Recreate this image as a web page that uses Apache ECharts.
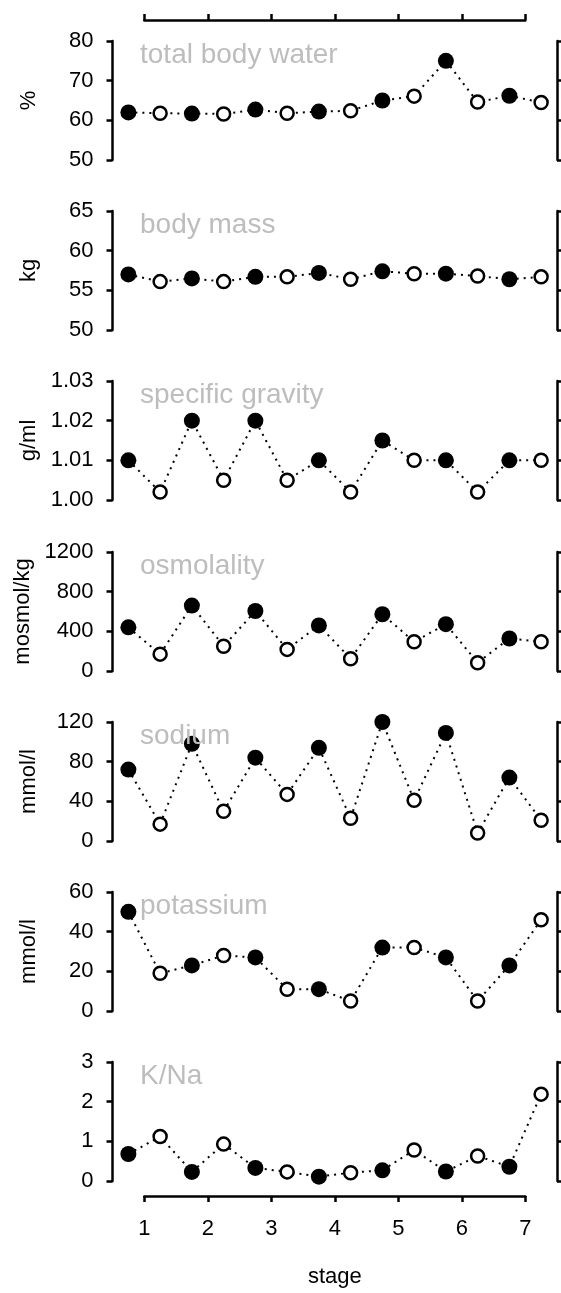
<!DOCTYPE html>
<html lang="en">
<head>
  <meta charset="UTF-8">
  <title>stage panels</title>
  <style>
    *{
      margin: 0;
      padding: 0;
    }
    body{
      background: #ffffff;
    }
    #main{
      width: 561px;
      height: 1293px;
    }
  </style>
</head>
<body>
  <div id="main"></div>
  <script src="https://cdn.jsdelivr.net/npm/echarts@6/dist/echarts.min.js"></script>
  <script type="text/javascript">
  // stages on the x axis
  var stages = [1, 2, 3, 4, 5, 6, 7]

  // panel titles and units
  var titles = ['total body water', 'body mass', 'specific gravity', 'osmolality', 'sodium', 'potassium', 'K/Na']
  var units = ['%', 'kg', 'g/ml', 'mosmol/kg', 'mmol/l', 'mmol/l', '']

  // filled dots (left of each stage) and open dots (right of each stage)
  var tbwFilled = [62.0, 61.7, 62.7, 62.2, 65.0, 75.0, 66.2]
  var tbwOpen = [61.8, 61.6, 61.8, 62.4, 66.1, 64.6, 64.5]
  var massFilled = [57.0, 56.5, 56.7, 57.2, 57.4, 57.1, 56.4]
  var massOpen = [56.1, 56.1, 56.7, 56.4, 57.1, 56.8, 56.7]
  var sgFilled = [1.010, 1.020, 1.020, 1.010, 1.015, 1.010, 1.010]
  var sgOpen = [1.002, 1.005, 1.005, 1.002, 1.010, 1.002, 1.010]
  var osmFilled = [440, 660, 605, 460, 572, 472, 328]
  var osmOpen = [170, 250, 218, 124, 295, 84, 295]
  var naFilled = [72, 98, 84, 94, 120, 109, 64]
  var naOpen = [17, 30, 47, 23, 41, 8, 21]
  var kFilled = [50, 23, 27, 11, 32, 27, 23]
  var kOpen = [19, 28, 11, 5, 32, 5, 46]
  var ratioFilled = [0.68, 0.23, 0.33, 0.11, 0.27, 0.24, 0.36]
  var ratioOpen = [1.12, 0.93, 0.23, 0.21, 0.78, 0.63, 2.19]

  // y axis ticks per panel
  var yMin = [50, 50, 1.00, 0, 0, 0, 0]
  var yMax = [80, 65, 1.03, 1200, 120, 60, 3]
  var yStep = [10, 5, 0.01, 400, 40, 20, 1]
  var yDigits = [0, 0, 2, 0, 0, 0, 0]

  var filled = [tbwFilled, massFilled, sgFilled, osmFilled, naFilled, kFilled, ratioFilled]
  var open = [tbwOpen, massOpen, sgOpen, osmOpen, naOpen, kOpen, ratioOpen]

  var font = '"Liberation Sans", Arial, sans-serif'
  var tops = [41, 211, 381, 552, 722, 892, 1062]
  var panelH = 119

  var grid = []
  var xAxis = []
  var yAxis = []
  var series = []
  var title = []

  tops.forEach(function (top, i) {
    grid.push({left: 112.5, width: 444.5, top: top, height: panelH})
    xAxis.push({type: 'value', gridIndex: i, min: 0.5, max: 7.5, show: false})
    var axisLine = {show: true, lineStyle: {color: '#000', width: 2.5}}
    yAxis.push({
      type: 'value', gridIndex: i, position: 'left',
      min: yMin[i], max: yMax[i], interval: yStep[i],
      name: units[i], nameLocation: 'middle', nameGap: 73, nameRotate: 90,
      nameTextStyle: {fontSize: 22, color: '#000', fontFamily: font},
      axisLine: axisLine,
      axisTick: {show: true, length: 6, lineStyle: {color: '#000', width: 2.5}},
      axisLabel: {
        fontSize: 22, color: '#000', fontFamily: font, margin: 19,
        formatter: function (v) { return v.toFixed(yDigits[i]) }
      },
      splitLine: {show: false}
    })
    // cut-off axis of the neighbouring column
    yAxis.push({
      type: 'value', gridIndex: i, position: 'right',
      min: yMin[i], max: yMax[i], interval: yStep[i],
      axisLine: axisLine,
      axisTick: {show: true, length: 6, lineStyle: {color: '#000', width: 2.5}},
      axisLabel: {show: false},
      splitLine: {show: false}
    })

    var line = []
    stages.forEach(function (s, j) {
      line.push([s - 0.25, filled[i][j]])
      line.push([s + 0.25, open[i][j]])
    })
    var yIdx = i * 2
    series.push({
      type: 'line', xAxisIndex: i, yAxisIndex: yIdx, data: line,
      symbol: 'none', silent: true, z: 1,
      lineStyle: {color: '#000', width: 2, type: [2, 5]}
    })
    series.push({
      type: 'scatter', xAxisIndex: i, yAxisIndex: yIdx, z: 3,
      data: stages.map(function (s, j) { return [s - 0.25, filled[i][j]] }),
      symbolSize: 16, itemStyle: {color: '#000', opacity: 1}
    })
    series.push({
      type: 'scatter', xAxisIndex: i, yAxisIndex: yIdx, z: 3,
      data: stages.map(function (s, j) { return [s + 0.25, open[i][j]] }),
      symbolSize: 13, itemStyle: {color: '#fff', borderColor: '#000', borderWidth: 2.5, opacity: 1}
    })

    title.push({
      text: titles[i], left: 135, top: top - 5,
      textStyle: {fontSize: 28, color: '#bdbdbd', fontWeight: 'normal', fontFamily: font}
    })
  })

  // frame with the top and bottom stage axes
  grid.push({left: 144.3, width: 381, top: 20, height: 1182})
  var frameTick = {show: true, length: 6, lineStyle: {color: '#000', width: 2.5}}
  var frameLine = {show: true, onZero: false, lineStyle: {color: '#000', width: 2.5}}
  xAxis.push({
    type: 'value', gridIndex: 7, position: 'top', min: 1, max: 7, interval: 1,
    axisLine: frameLine, axisTick: frameTick, axisLabel: {show: false}, splitLine: {show: false}
  })
  xAxis.push({
    type: 'value', gridIndex: 7, position: 'bottom', min: 1, max: 7, interval: 1,
    name: 'stage', nameLocation: 'middle', nameGap: 70,
    nameTextStyle: {fontSize: 22, color: '#000', fontFamily: font},
    axisLine: frameLine, axisTick: frameTick,
    axisLabel: {fontSize: 22, color: '#000', fontFamily: font, margin: 22},
    splitLine: {show: false}
  })
  yAxis.push({type: 'value', gridIndex: 7, min: 0, max: 1, show: false})

  var myChart = echarts.init(document.getElementById('main'))
  myChart.setOption({
    animation: false,
    title: title,
    grid: grid,
    xAxis: xAxis,
    yAxis: yAxis,
    series: series
  })
  </script>
</body>
</html>
